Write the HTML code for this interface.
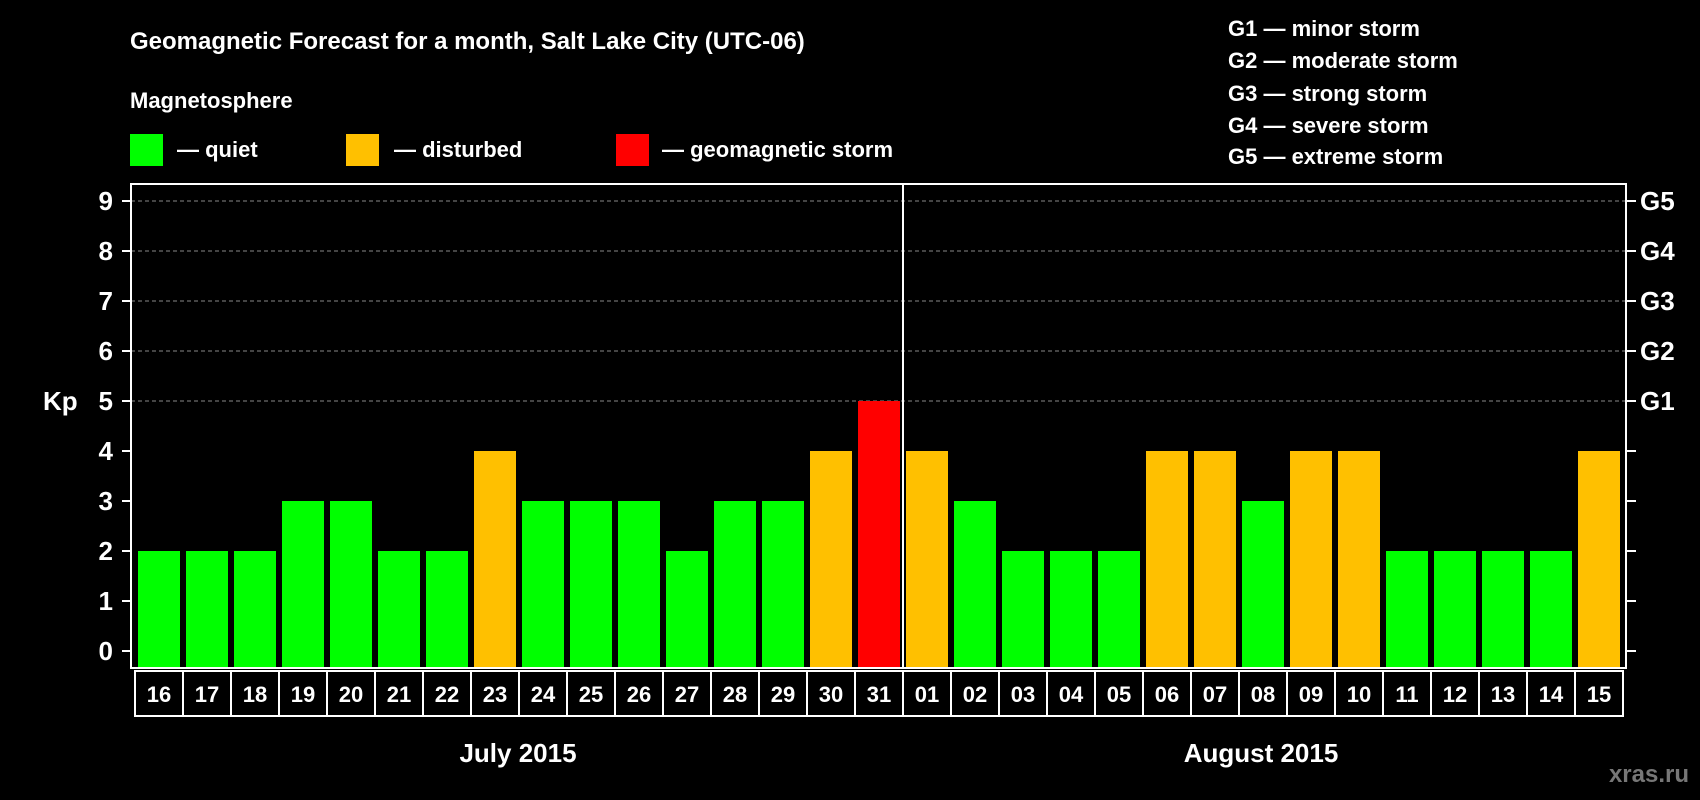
<!DOCTYPE html>
<html><head><meta charset="utf-8"><style>
html,body{margin:0;padding:0;background:#000;}
svg{display:block;font-family:"Liberation Sans",Arial,sans-serif;font-weight:bold;}
</style></head><body>
<svg id="chart" width="1700" height="800" viewBox="0 0 1700 800">
<rect width="1700" height="800" fill="#000"/>
<text x="130" y="49" font-size="24" fill="#fff">Geomagnetic Forecast for a month, Salt Lake City (UTC-06)</text>
<text x="130" y="108" font-size="22" fill="#fff">Magnetosphere</text>
<g>
<rect x="130" y="134" width="33" height="32" fill="#00ff00"/>
<text x="177" y="157" font-size="22" fill="#fff">— quiet</text></g>
<g>
<rect x="346" y="134" width="33" height="32" fill="#ffc000"/>
<text x="394" y="157" font-size="22" fill="#fff">— disturbed</text></g>
<g>
<rect x="616" y="134" width="33" height="32" fill="#ff0000"/>
<text x="662" y="157" font-size="22" fill="#fff">— geomagnetic storm</text></g>
<g font-size="22" fill="#fff">
<text x="1228" y="36">G1 — minor storm</text>
<text x="1228" y="68">G2 — moderate storm</text>
<text x="1228" y="101">G3 — strong storm</text>
<text x="1228" y="133">G4 — severe storm</text>
<text x="1228" y="164">G5 — extreme storm</text>
</g>
<text x="43" y="410" font-size="26" fill="#fff">Kp</text>
<g id="grid"></g><g id="bars"></g><g id="axes"></g><g id="xlabels"></g>
<text x="518" y="762" font-size="26" fill="#fff" text-anchor="middle">July 2015</text>
<text x="1261" y="762" font-size="26" fill="#fff" text-anchor="middle">August 2015</text>
<text x="1689" y="782" font-size="24" fill="#777" text-anchor="end">xras.ru</text>
</svg>
<script>
const days = ["16","17","18","19","20","21","22","23","24","25","26","27","28","29","30","31","01","02","03","04","05","06","07","08","09","10","11","12","13","14","15"];
const kpValues = [2,2,2,3,3,2,2,4,3,3,3,2,3,3,4,5,4,3,2,2,2,4,4,3,4,4,2,2,2,2,4];
const yTicks = ["0","1","2","3","4","5","6","7","8","9"];
const gLabels = ["G1","G2","G3","G4","G5"];
const NS="http://www.w3.org/2000/svg";
const L=131,R=1626,T=184,B=668;
function y(v){return 651-50*v;}
function x(i){return 159+48*i;}
function mk(tag,attrs,parent){const e=document.createElementNS(NS,tag);for(const k in attrs)e.setAttribute(k,attrs[k]);parent.appendChild(e);return e;}
const grid=document.getElementById('grid'),bars=document.getElementById('bars'),axes=document.getElementById('axes'),xl=document.getElementById('xlabels');
yTicks.forEach((t,i)=>{
  const v=+t;
  if(v>=5){const g=mk('line',{x1:L,x2:R,y1:y(v),y2:y(v),stroke:'#888','stroke-width':1,'stroke-dasharray':'4,3'},grid);
  
  }
  const tk=mk('line',{x1:L-9,x2:L,y1:y(v),y2:y(v),stroke:'#fff','stroke-width':2},axes);
  
  
  const tr=mk('line',{x1:R,x2:R+10,y1:y(v),y2:y(v),stroke:'#fff','stroke-width':2},axes);
  
  
  const lb=mk('text',{x:113,y:y(v)+9,'font-size':26,fill:'#fff','text-anchor':'end'},axes);
  lb.textContent=t;
  
  
});
gLabels.forEach((g,i)=>{
  const lb=mk('text',{x:1640,y:y(5+i)+9,'font-size':26,fill:'#fff'},axes);
  lb.textContent=g;
  
  
});
kpValues.forEach((v,i)=>{
  const c=v>=5?'#ff0000':(v>=4?'#ffc000':'#00ff00');
  const b=mk('rect',{x:x(i)-21,y:y(v),width:42,height:B-y(v),fill:c},bars);
  
  
  const bx=mk('rect',{x:x(i)-24,y:671,width:48,height:45,fill:'#000',stroke:'#fff','stroke-width':2},xl);
  
  
  const t=mk('text',{x:x(i),y:702,'font-size':22,fill:'#fff','text-anchor':'middle'},xl);
  t.textContent=days[i];
  
  
});
const fr=mk('rect',{x:L,y:T,width:R-L,height:B-T,fill:'none',stroke:'#fff','stroke-width':2},axes);


const dv=mk('line',{x1:903,x2:903,y1:T,y2:B,stroke:'#fff','stroke-width':2},axes);


</script>
</body></html>
